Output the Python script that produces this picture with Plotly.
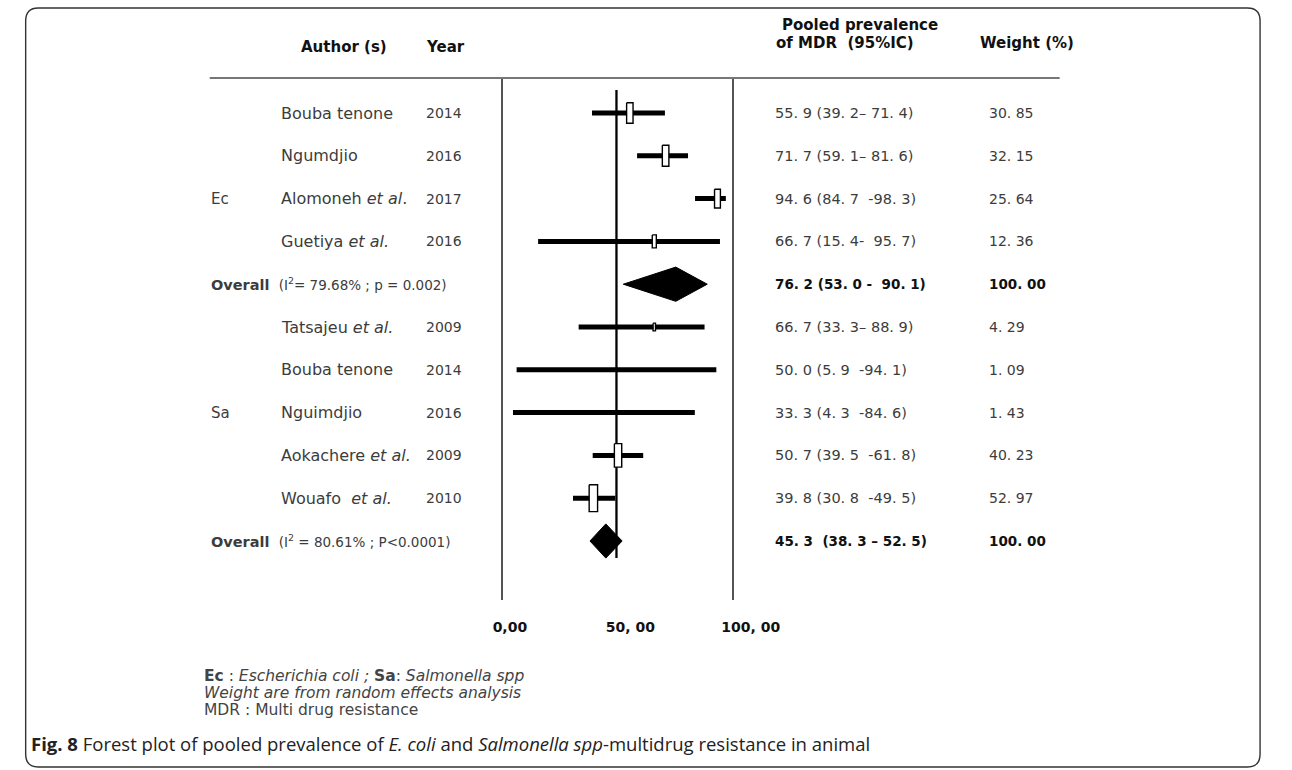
import math
import plotly.graph_objects as go

W, H = 1292, 770

# ------------------------------------------------------------------ data
ec_authors = ["Bouba tenone", "Ngumdjio", "Alomoneh <i>et al</i>.", "Guetiya <i>et al.</i>"]
ec_years = ["2014", "2016", "2017", "2016"]
ec_est = [55.9, 71.7, 94.6, 66.7]
ec_lo = [39.2, 59.1, 84.7, 15.4]
ec_hi = [71.4, 81.6, 98.3, 95.7]
ec_weight = [30.85, 32.15, 25.64, 12.36]
ec_ci_text = ["55. 9 (39. 2\u2013 71. 4)", "71. 7 (59. 1\u2013 81. 6)",
              "94. 6 (84. 7 \u00a0-98. 3)", "66. 7 (15. 4- \u00a095. 7)"]
ec_weight_text = ["30. 85", "32. 15", "25. 64", "12. 36"]
ec_pooled = [76.2, 53.0, 90.1]          # estimate, low, high
ec_pooled_text = "76. 2 (53. 0 - \u00a090. 1)"
ec_het = "(I<sup>2</sup>= 79.68% ; p = 0.002)"

sa_authors = ["Tatsajeu <i>et al.</i>", "Bouba tenone", "Nguimdjio", "Aokachere <i>et al.</i>", "Wouafo \u00a0<i>et al.</i>"]
sa_years = ["2009", "2014", "2016", "2009", "2010"]
sa_est = [66.7, 50.0, 33.3, 50.7, 39.8]
sa_lo = [33.3, 5.9, 4.3, 39.5, 30.8]
sa_hi = [88.9, 94.1, 84.6, 61.8, 49.5]
sa_weight = [4.29, 1.09, 1.43, 40.23, 52.97]
sa_ci_text = ["66. 7 (33. 3\u2013 88. 9)", "50. 0 (5. 9 \u00a0-94. 1)", "33. 3 (4. 3 \u00a0-84. 6)",
              "50. 7 (39. 5 \u00a0-61. 8)", "39. 8 (30. 8 \u00a0-49. 5)"]
sa_weight_text = ["4. 29", "1. 09", "1. 43", "40. 23", "52. 97"]
sa_pooled = [45.3, 38.3, 52.5]
sa_pooled_text = "45. 3 \u00a0(38. 3 \u2013 52. 5)"
sa_het = "(I<sup>2</sup> = 80.61% ; P<0.0001)"

pooled_weight_text = "100. 00"
null_value = 50.0
tick_values = [0, 50, 100]
tick_labels = ["0,00", "50, 00", "100, 00"]

groups = [
    dict(code="Ec", authors=ec_authors, years=ec_years, est=ec_est, lo=ec_lo, hi=ec_hi,
         weight=ec_weight, ci=ec_ci_text, wt=ec_weight_text, pooled=ec_pooled,
         pooled_text=ec_pooled_text, het=ec_het),
    dict(code="Sa", authors=sa_authors, years=sa_years, est=sa_est, lo=sa_lo, hi=sa_hi,
         weight=sa_weight, ci=sa_ci_text, wt=sa_weight_text, pooled=sa_pooled,
         pooled_text=sa_pooled_text, het=sa_het),
]

# ------------------------------------------------------------------ geometry helpers
def PX(x):
    return x / W


def PY(y):
    return 1 - y / H


X0_PX, X_UNIT = 504.6, 2.35        # pixel of value 0, pixels per unit
ROW0_PX, ROW_PX = 113.0, 42.8      # pixel of first row, row pitch
PANEL_L, PANEL_R, PANEL_T, PANEL_B = 504, 742, 78, 600

TXT = "#3c3c3c"
FONT = "DejaVu Sans"

fig = go.Figure()

ci_x, ci_y = [], []
box_x, box_y = [], []
dia_x, dia_y = [], []
ann = []

k = 0
for g in groups:
    n = len(g["est"])
    for i in range(n):
        ci_x += [g["lo"][i], g["hi"][i], None]
        ci_y += [k, k, None]
        w = g["weight"][i]
        hw = 1.2 * math.sqrt(w) / X_UNIT / 2
        hh = 3.7 * math.sqrt(w) / ROW_PX / 2
        if 3.7 * math.sqrt(w) > 5.5:
            e = g["est"][i]
            box_x += [e - hw, e + hw, e + hw, e - hw, e - hw, None]
            box_y += [k - hh, k - hh, k + hh, k + hh, k - hh, None]
        ann.append(dict(x=PX(272), y=k, text=g["authors"][i], size=16))
        ann.append(dict(x=PX(422), y=k, text=g["years"][i], size=14))
        ann.append(dict(x=PX(785), y=k, text=g["ci"][i], size=14.5))
        ann.append(dict(x=PX(1007), y=k, text=g["wt"][i], size=14))
        k += 1
    # group label beside the third study of the group
    ann.append(dict(x=PX(199), y=k - n + 2, text=g["code"], size=15))
    est, lo, hi = g["pooled"]
    dia_x += [lo, est, hi, est, lo, None]
    dia_y += [k, k - 0.4, k, k + 0.4, k, None]
    ann.append(dict(x=PX(199), y=k, size=14.5,
                    text="<b>Overall</b> \u00a0<span style='font-size:13.5px'>" + g["het"] + "</span>"))
    ann.append(dict(x=PX(785), y=k, text="<b>" + g["pooled_text"] + "</b>", color="#111", size=13.5))
    ann.append(dict(x=PX(1007), y=k, text="<b>" + pooled_weight_text + "</b>", color="#111", size=13.5))
    k += 1

n_rows = k

# null line
fig.add_trace(go.Scatter(x=[null_value, null_value], y=[-0.54, n_rows - 1 + 0.4],
                         mode="lines", line=dict(color="black", width=2.3),
                         hoverinfo="skip", showlegend=False))
# confidence intervals
fig.add_trace(go.Scatter(x=ci_x, y=ci_y, mode="lines", line=dict(color="black", width=5),
                         hoverinfo="skip", showlegend=False))
# weight boxes
fig.add_trace(go.Scatter(x=box_x, y=box_y, mode="lines", fill="toself", fillcolor="white",
                         line=dict(color="black", width=1.4), hoverinfo="skip", showlegend=False))
# pooled diamonds
fig.add_trace(go.Scatter(x=dia_x, y=dia_y, mode="lines", fill="toself", fillcolor="black",
                         line=dict(color="black", width=1), hoverinfo="skip", showlegend=False))
# invisible trace on the tick-label axis
fig.add_trace(go.Scatter(x=tick_values, y=[None] * len(tick_values), xaxis="x2", yaxis="y",
                         mode="markers", hoverinfo="skip", showlegend=False))

annotations = []
for a in ann:
    annotations.append(dict(x=a["x"], y=a["y"], xref="paper", yref="y", text=a["text"],
                            showarrow=False, xanchor="left", yanchor="middle",
                            font=dict(family=FONT, size=a["size"], color=a.get("color", TXT))))

# headers
hdr = [
    (293, 47, "Author (s)"),
    (422, 47, "Year"),
    (792, 25, "Pooled prevalence"),
    (786, 43, "of MDR \u00a0(95%IC)"),
    (997, 43, "Weight (%)"),
]
for x, y, t in hdr:
    annotations.append(dict(x=PX(x), y=PY(y), xref="paper", yref="paper", text="<b>" + t + "</b>",
                            showarrow=False, xanchor="left", yanchor="middle",
                            font=dict(family=FONT, size=15, color="#111")))

# footnotes
foot = [
    (676, "<b>Ec</b> : <i>Escherichia coli ;</i> <b>Sa</b>: <i>Salmonella spp</i>"),
    (693, "<i>Weight are from random effects analysis</i>"),
    (710, "MDR : Multi drug resistance"),
]
for y, t in foot:
    annotations.append(dict(x=PX(192), y=PY(y), xref="paper", yref="paper", text=t,
                            showarrow=False, xanchor="left", yanchor="middle",
                            font=dict(family=FONT, size=15.5, color="#444")))

annotations.append(dict(x=PX(12), y=PY(743), xref="paper", yref="paper",
                        text="<b>Fig. 8</b> Forest plot of pooled prevalence of <i>E. coli</i> and "
                             "<i>Salmonella spp</i>-multidrug resistance in animal",
                        showarrow=False, xanchor="left", yanchor="middle",
                        font=dict(family="Open Sans", size=18.5, color="#222")))

# frame (rounded rectangle) and header rule
x0, y0, x1, y1, r = PX(9), PY(8), PX(1290), PY(767), 13
rx, ry = r / W, r / H
frame = (f"M {x0 + rx},{y0} L {x1 - rx},{y0} Q {x1},{y0} {x1},{y0 - ry} "
         f"L {x1},{y1 + ry} Q {x1},{y1} {x1 - rx},{y1} L {x0 + rx},{y1} "
         f"Q {x0},{y1} {x0},{y1 + ry} L {x0},{y0 - ry} Q {x0},{y0} {x0 + rx},{y0} Z")
shapes = [
    dict(type="path", xref="paper", yref="paper", path=frame,
         line=dict(color="#333", width=1.4)),
    dict(type="line", xref="paper", yref="paper", x0=PX(200), x1=PX(1082), y0=PY(78), y1=PY(78),
         line=dict(color="#777", width=2.2)),
]

fig.update_layout(
    width=W, height=H, margin=dict(l=0, r=0, t=0, b=0),
    paper_bgcolor="white", plot_bgcolor="rgba(0,0,0,0)",
    showlegend=False,
    xaxis=dict(domain=[PX(PANEL_L), PX(PANEL_R)],
               range=[(PANEL_L - X0_PX) / X_UNIT, (PANEL_R - X0_PX) / X_UNIT],
               showgrid=False, zeroline=False, showticklabels=False, ticks="", showline=False,
               fixedrange=True),
    xaxis2=dict(domain=[PX(511.5), PX(761.5)], range=[0, 100], anchor="free", position=PY(617),
                tickvals=tick_values, ticktext=tick_labels, showgrid=False, zeroline=False,
                showline=False, ticks="",
                tickfont=dict(family=FONT, size=14, color="#111", weight="bold"),
                fixedrange=True),
    yaxis=dict(domain=[PY(PANEL_B), PY(PANEL_T)],
               range=[(PANEL_B - ROW0_PX) / ROW_PX, (PANEL_T - ROW0_PX) / ROW_PX],
               showgrid=False, zeroline=False, showticklabels=False, ticks="",
               showline=True, mirror=True, linecolor="#555", linewidth=1.5, fixedrange=True),
    annotations=annotations,
    shapes=shapes,
)

fig.write_html("out.html", config={"displayModeBar": False},
               post_script="document.body.style.margin='0';document.body.style.overflow='hidden';")
